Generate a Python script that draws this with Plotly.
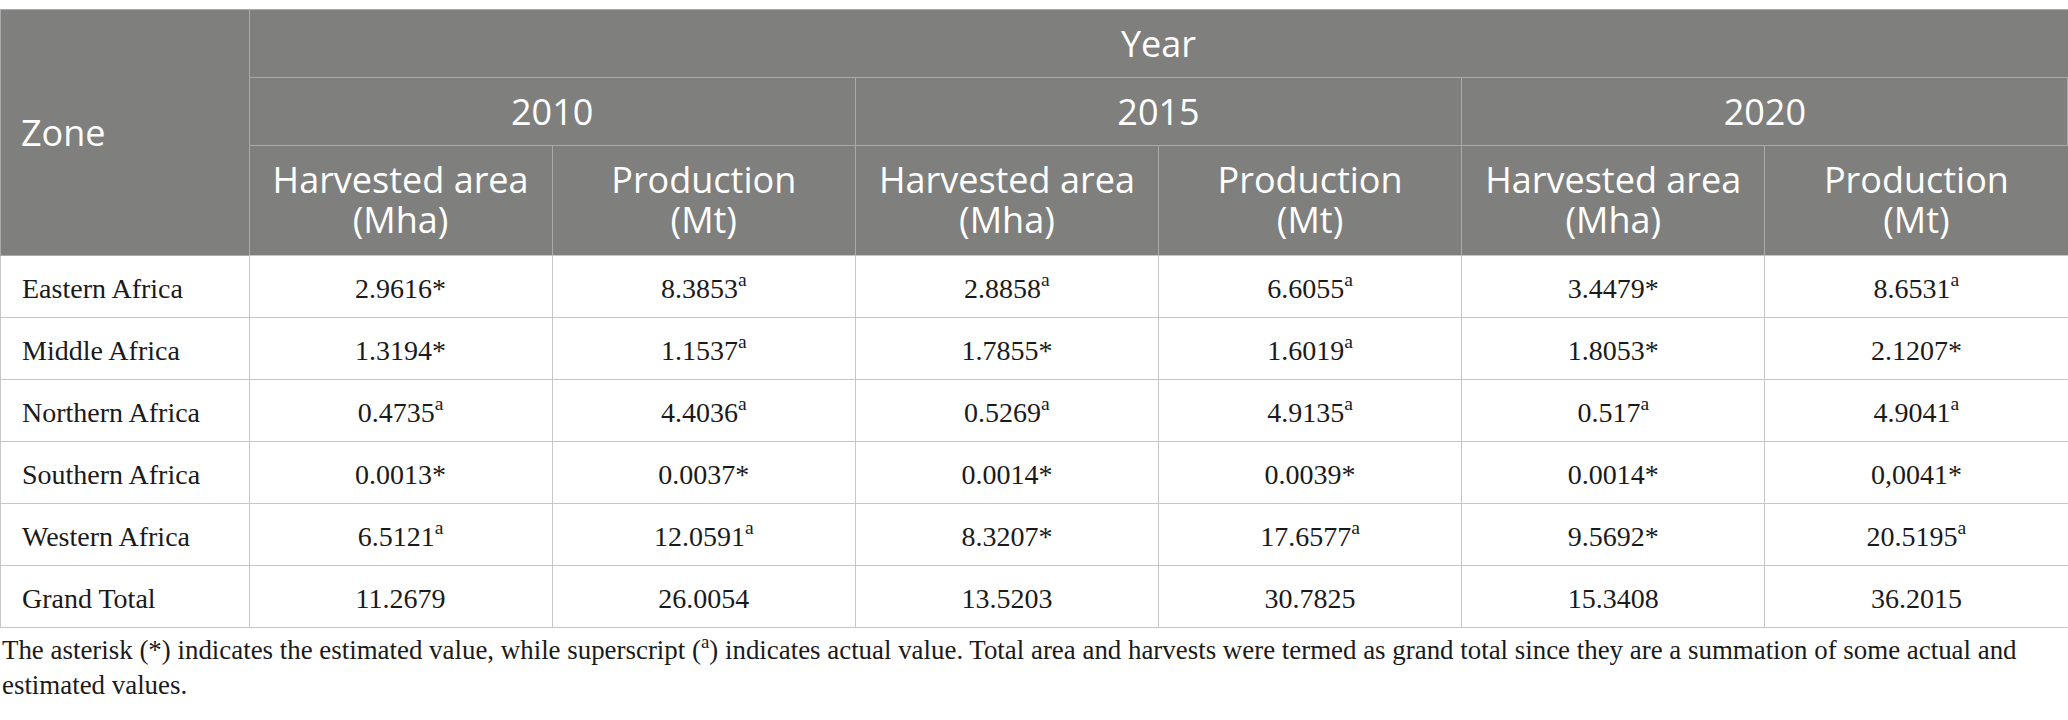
import plotly.graph_objects as go

# table contents
zones = ["Eastern Africa", "Middle Africa", "Northern Africa",
         "Southern Africa", "Western Africa", "Grand Total"]
years = ["2010", "2015", "2020"]
sub_top = ["Harvested area", "Production"]
sub_unit = ["(Mha)", "(Mt)"]

area_2010 = ["2.9616", "1.3194", "0.4735", "0.0013", "6.5121", "11.2679"]
area_2010_flag = ["*", "*", "a", "*", "a", ""]
prod_2010 = ["8.3853", "1.1537", "4.4036", "0.0037", "12.0591", "26.0054"]
prod_2010_flag = ["a", "a", "a", "*", "a", ""]
area_2015 = ["2.8858", "1.7855", "0.5269", "0.0014", "8.3207", "13.5203"]
area_2015_flag = ["a", "*", "a", "*", "*", ""]
prod_2015 = ["6.6055", "1.6019", "4.9135", "0.0039", "17.6577", "30.7825"]
prod_2015_flag = ["a", "a", "a", "*", "a", ""]
area_2020 = ["3.4479", "1.8053", "0.517", "0.0014", "9.5692", "15.3408"]
area_2020_flag = ["*", "*", "a", "*", "*", ""]
prod_2020 = ["8.6531", "2.1207", "4.9041", "0,0041", "20.5195", "36.2015"]
prod_2020_flag = ["a", "*", "a", "*", "a", ""]

note = ("The asterisk (*) indicates the estimated value, while superscript (<sup>a</sup>) "
        "indicates actual value. Total area and harvests were termed as grand total since "
        "they are a summation of some actual and<br>estimated values.")

W, H = 2068, 720
top, row1, row2, row3, rowh = 9, 68, 68, 110, 62
split = 249 / W

head_fill = "#7f807e"
head_line = "#a9aaa9"
body_line = "#c6c6c6"
clear = "rgba(0,0,0,0)"
head_font = dict(family="Open Sans", size=36, color="white")
body_font = dict(family="Liberation Serif", size=28, color="#1a1a1a")


def pad(size):
    # invisible blank whose font size pushes the text down inside its cell
    return '<span style="font-size:%dpx">\u00a0</span>' % size


def cell(text, size, left=False):
    # trailing <br> keeps plotly from word-wrapping the span tags apart
    if left:
        return text + pad(size) + "<br>"
    return pad(size) + text + pad(size) + "<br>"


def mark(vals, flags):
    out = []
    for v, f in zip(vals, flags):
        v = v + "<sup>a</sup>" if f == "a" else v + f
        out.append(cell(v, 39))
    return out


def yfrac(px):
    return 1 - px / H


fig = go.Figure()

# zone column, its header spans the three header rows
fig.add_trace(go.Table(
    domain=dict(x=[0, split], y=[0, yfrac(top)]),
    header=dict(values=[pad(50) + cell("Zone", 121, left=True)], fill_color=head_fill,
                line=dict(color=head_line, width=1), align="left",
                font=head_font, height=row1 + row2 + row3),
    cells=dict(values=[[cell("\u00a0\u00a0" + z, 39, left=True) for z in zones]],
               fill_color="white", line=dict(color=body_line, width=1), align="left",
               font=body_font, height=rowh),
))

# "Year" band
fig.add_trace(go.Table(
    domain=dict(x=[split, 1], y=[yfrac(top + row1), yfrac(top)]),
    header=dict(values=[cell("Year", 37)], fill_color=head_fill,
                line=dict(color=head_line, width=1), align="center",
                font=head_font, height=row1),
    cells=dict(values=[[]]),
))

# year row
fig.add_trace(go.Table(
    domain=dict(x=[split, 1], y=[yfrac(top + row1 + row2), yfrac(top + row1)]),
    header=dict(values=[cell(y, 37) for y in years], fill_color=head_fill,
                line=dict(color=head_line, width=1), align="center",
                font=head_font, height=row2),
    cells=dict(values=[[], [], []]),
))

# grey band behind the two-line sub headers
sub_y = top + row1 + row2
fig.add_trace(go.Table(
    domain=dict(x=[split, 1], y=[yfrac(sub_y + row3), yfrac(sub_y)]),
    header=dict(values=[""] * 6, fill_color=head_fill,
                line=dict(color=head_line, width=1), height=row3),
    cells=dict(values=[[]] * 6),
))

# unit line of the sub headers + the values
unit_h = 68.5
columns = [mark(area_2010, area_2010_flag), mark(prod_2010, prod_2010_flag),
           mark(area_2015, area_2015_flag), mark(prod_2015, prod_2015_flag),
           mark(area_2020, area_2020_flag), mark(prod_2020, prod_2020_flag)]
fig.add_trace(go.Table(
    domain=dict(x=[split, 1], y=[0, yfrac(sub_y + row3 - unit_h)]),
    header=dict(values=[cell(u, 36) for u in sub_unit * 3], fill_color=clear,
                line=dict(color=clear, width=1), align="center",
                font=head_font, height=unit_h),
    cells=dict(values=columns, fill_color="white",
               line=dict(color=body_line, width=1), align="center",
               font=body_font, height=rowh),
))

# first line of the sub headers
fig.add_trace(go.Table(
    domain=dict(x=[split, 1], y=[yfrac(sub_y + row3), yfrac(sub_y)]),
    header=dict(values=[cell(t, 37) for t in sub_top * 3], fill_color=clear,
                line=dict(color=clear, width=1), align="center",
                font=head_font, height=row3 - unit_h),
    cells=dict(values=[[]] * 6),
))

fig.add_annotation(
    text=note, xref="paper", yref="paper", x=0, y=yfrac(629),
    xanchor="left", yanchor="top", align="left", showarrow=False,
    font=dict(family="Liberation Serif", size=26.9, color="#1a1a1a"),
)

fig.update_layout(width=W, height=H, margin=dict(l=0, r=0, t=0, b=0),
                  paper_bgcolor="white", showlegend=False)

fig.write_html("out.html", config={"displayModeBar": False},
               post_script="document.body.style.margin='0px';")
